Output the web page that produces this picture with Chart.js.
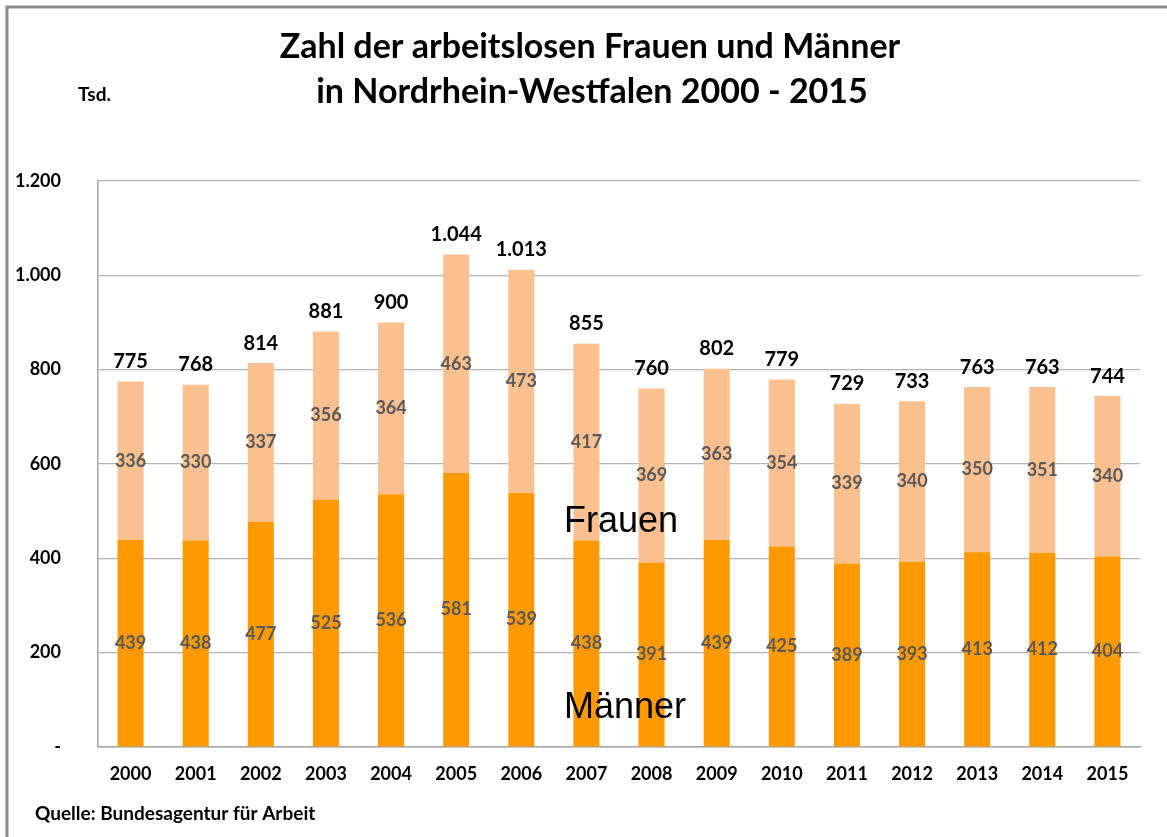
<!DOCTYPE html>
<html lang="de">
<head>
<meta charset="utf-8">
<title>Arbeitslose Frauen und Männer NRW</title>
<script src="https://cdn.jsdelivr.net/npm/chart.js@4/dist/chart.umd.min.js"></script>
<style>
  html, body { margin: 0; padding: 0; background: #fff; }
  #chart { display: block; }
</style>
</head>
<body>
<canvas id="chart" width="1167" height="837"></canvas>
<script>
// Daten (Tsd.)
const years = ['2000', '2001', '2002', '2003', '2004', '2005', '2006', '2007',
               '2008', '2009', '2010', '2011', '2012', '2013', '2014', '2015'];
const maenner = [439, 438, 477, 525, 536, 581, 539, 438, 391, 439, 425, 389, 393, 413, 412, 404];
const frauen  = [336, 330, 337, 356, 364, 463, 473, 417, 369, 363, 354, 339, 340, 350, 351, 340];
const totals  = [775, 768, 814, 881, 900, 1044, 1013, 855, 760, 802, 779, 729, 733, 763, 763, 744];
const yTicks  = [0, 200, 400, 600, 800, 1000, 1200];

const FONT = "Lato, 'Open Sans', sans-serif";

// German thousands separator
function fmt(v) {
    return String(v).replace(/\B(?=(\d{3})+(?!\d))/g, '.');
}

// Labels inside bars, totals on top, title and notes
const labelsPlugin = {
    id: 'labels',
    afterDatasetsDraw(chart) {
        const ctx = chart.ctx;
        ctx.save();
        ctx.textAlign = 'center';
        ctx.textBaseline = 'middle';

        // values in segments
        ctx.font = `bold 18px ${FONT}`;
        ctx.fillStyle = '#595959';
        chart.data.datasets.forEach((ds, i) => {
            const meta = chart.getDatasetMeta(i);
            meta.data.forEach((bar, j) => {
                const y = (bar.y + bar.base) / 2;
                ctx.fillText(fmt(ds.data[j]), bar.x, y);
            });
        });

        // totals
        const top = chart.getDatasetMeta(1);
        ctx.font = `bold 20px ${FONT}`;
        ctx.fillStyle = '#000';
        top.data.forEach((bar, j) => {
            ctx.fillText(fmt(totals[j]), bar.x, bar.y - 20);
        });
        ctx.restore();
    },
    afterDraw(chart) {
        const ctx = chart.ctx;
        ctx.save();

        // outer frame
        ctx.strokeStyle = '#8c8c8c';
        ctx.lineWidth = 3;
        ctx.strokeRect(7, 7, 1200, 900);

        // title
        ctx.fillStyle = '#000';
        ctx.textAlign = 'center';
        ctx.textBaseline = 'middle';
        ctx.font = `bold 34px ${FONT}`;
        ctx.fillText('Zahl der arbeitslosen Frauen und Männer', 590, 47);
        ctx.fillText('in Nordrhein-Westfalen 2000 - 2015', 592, 92);

        ctx.textAlign = 'left';
        ctx.font = `bold 19px ${FONT}`;
        ctx.fillText('Tsd.', 78, 95);
        ctx.fillText('Quelle: Bundesagentur für Arbeit', 35, 814);

        // series names
        ctx.font = "36px 'Liberation Sans', Arial, sans-serif";
        ctx.textBaseline = 'alphabetic';
        ctx.fillText('Frauen', 564, 532);
        ctx.fillText('Männer', 564, 718);
        ctx.restore();
    }
};

new Chart(document.getElementById('chart'), {
    type: 'bar',
    data: {
        labels: years,
        datasets: [
            {
                label: 'Männer',
                data: maenner,
                backgroundColor: '#ff9900',
                barPercentage: 0.4,
                categoryPercentage: 1
            },
            {
                label: 'Frauen',
                data: frauen,
                backgroundColor: '#fac090',
                barPercentage: 0.4,
                categoryPercentage: 1
            }
        ]
    },
    options: {
        responsive: false,
        animation: false,
        layout: { padding: { left: 0, top: 181, right: 27, bottom: 0 } },
        plugins: {
            legend: { display: false },
            tooltip: { enabled: false }
        },
        scales: {
            x: {
                stacked: true,
                grid: { display: false, drawTicks: false },
                border: { color: '#a6a6a6', width: 1.5 },
                ticks: {
                    color: '#000',
                    font: { family: FONT, size: 18, weight: 'bold' },
                    padding: 16,
                    maxRotation: 0
                },
                afterFit(scale) { scale.height = 90; }
            },
            y: {
                stacked: true,
                min: 0,
                max: 1200,
                afterBuildTicks(scale) {
                    scale.ticks = yTicks.map(v => ({ value: v }));
                },
                grid: { color: '#b3b3b3', lineWidth: 1.2, drawTicks: false },
                border: { color: '#a6a6a6', width: 1.5 },
                ticks: {
                    color: '#000',
                    font: { family: FONT, size: 18, weight: 'bold' },
                    padding: 37,
                    callback: v => v === 0 ? '-' : fmt(v)
                },
                afterFit(scale) { scale.width = 98; }
            }
        }
    },
    plugins: [labelsPlugin]
});
</script>
</body>
</html>
